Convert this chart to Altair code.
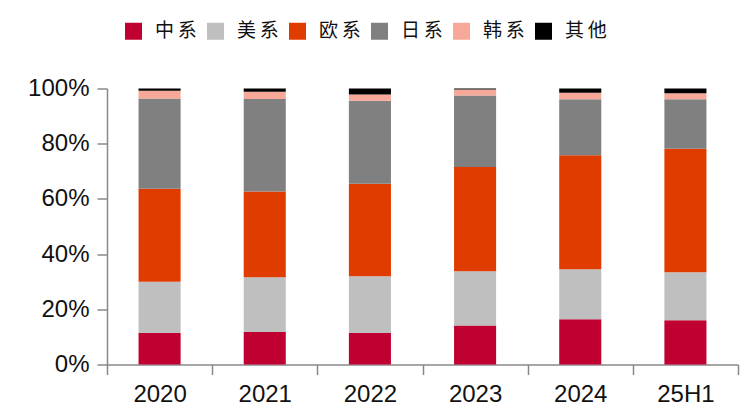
import altair as alt
import pandas as pd

years = ["2020", "2021", "2022", "2023", "2024", "25H1"]
series = ["中系", "美系", "欧系", "日系", "韩系", "其他"]
colors = ["#C00030", "#BFBFBF", "#E03C00", "#808080", "#F8A899", "#000000"]

zhong = [11.4, 11.8, 11.4, 14.1, 16.4, 16.0]
mei = [18.6, 19.8, 20.6, 19.7, 18.1, 17.4]
ou = [33.7, 31.1, 33.5, 37.8, 41.3, 44.8]
ri = [32.7, 33.5, 30.1, 25.9, 20.3, 17.9]
han = [2.8, 2.6, 2.2, 2.1, 2.4, 2.2]
qita = [0.8, 1.2, 2.2, 0.4, 1.5, 1.7]

all_vals = [zhong, mei, ou, ri, han, qita]
rows = []
for si, (name, vals) in enumerate(zip(series, all_vals)):
    for y, v in zip(years, vals):
        rows.append({"year": y, "series": name, "value": v, "idx": si})
df = pd.DataFrame(rows)

axis_color = "#888888"

chart = alt.Chart(df).mark_bar(width=alt.RelativeBandSize(0.4)).encode(
    x=alt.X("year:N", sort=years, title=None,
            scale=alt.Scale(paddingInner=0, paddingOuter=0),
            axis=alt.Axis(labelAngle=0, tickBand="extent", labelFontSize=24,
                          labelFont="Liberation Sans", labelColor="#111111",
                          labelPadding=8, tickSize=10, tickColor=axis_color,
                          tickWidth=1.5, domainColor=axis_color, domainWidth=1.5)),
    y=alt.Y("value:Q", stack="zero", title=None,
            scale=alt.Scale(domain=[0, 100], nice=False),
            axis=alt.Axis(values=[0, 20, 40, 60, 80, 100], grid=False,
                          labelExpr="datum.value + '%'", labelFontSize=24,
                          labelFont="Liberation Sans", labelColor="#111111",
                          labelPadding=8, tickSize=10, tickColor=axis_color,
                          tickWidth=1.5, domainColor=axis_color, domainWidth=1.5)),
    color=alt.Color("series:N", sort=series,
                    scale=alt.Scale(domain=series, range=colors),
                    legend=alt.Legend(title=None, orient="none", direction="horizontal",
                                      legendX=17, legendY=-67, symbolType="square",
                                      symbolSize=289, symbolStrokeWidth=0,
                                      labelExpr="join(split(datum.label, ''), '\u2009')",
                                      labelFont="Noto Sans CJK SC", labelFontSize=19,
                                      labelColor="#111111", labelOffset=12,
                                      columnPadding=9, padding=0)),
    order=alt.Order("idx:Q", sort="ascending"),
).properties(
    width=631, height=276,
    autosize=alt.AutoSizeParams(type="none"),
    padding={"left": 99, "top": 80.5, "right": 10, "bottom": 46},
).configure_view(stroke=None)

chart.save("out.html", embed_options={"renderer": "svg", "actions": False})
